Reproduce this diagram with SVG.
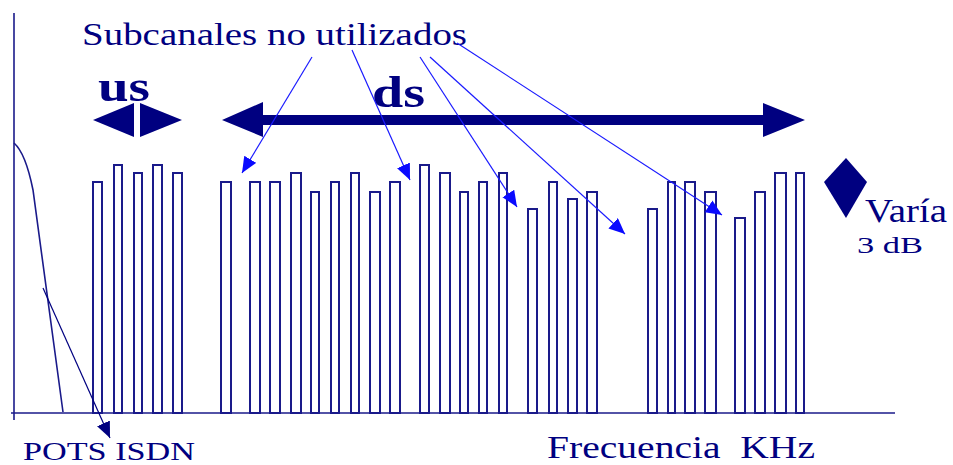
<svg xmlns="http://www.w3.org/2000/svg" width="953" height="465" viewBox="0 0 953 465">
<style>
.bar{fill:none;stroke:#1a1a8a;stroke-width:2}
.axis{fill:none;stroke:#1a1a8a;stroke-width:1.6}
.t{font-family:'Liberation Serif',serif;fill:#000080;white-space:pre}
.b{font-weight:bold}
.ptr{fill:none;stroke:#1a1aff;stroke-width:1.2}
.nv{fill:#000080}
</style>
<defs>
<marker id="ah" markerUnits="userSpaceOnUse" markerWidth="18" markerHeight="16" refX="16" refY="7" orient="auto"><path d="M0,0 L16,7 L0,14 z" fill="#0a0aff"/></marker>
<marker id="ahn" markerUnits="userSpaceOnUse" markerWidth="18" markerHeight="16" refX="16" refY="7" orient="auto"><path d="M0,0 L16,7 L0,14 z" fill="#000080"/></marker>
</defs>
<rect width="953" height="465" fill="#ffffff"/>
<g id="axes">
<line class="axis" x1="14" y1="13" x2="14" y2="420"/>
<line class="axis" x1="11" y1="413" x2="895" y2="413"/>
<path class="axis" d="M14,143 C22,150 28,165 33,190 L63,412"/>
</g>
<g id="bars">
<rect class="bar" x="93" y="182" width="9" height="231"/>
<rect class="bar" x="114" y="165" width="8" height="248"/>
<rect class="bar" x="134" y="173" width="8" height="240"/>
<rect class="bar" x="153" y="165" width="9" height="248"/>
<rect class="bar" x="173" y="173" width="9" height="240"/>
<rect class="bar" x="221" y="182" width="10" height="231"/>
<rect class="bar" x="250" y="182" width="10" height="231"/>
<rect class="bar" x="270" y="182" width="10" height="231"/>
<rect class="bar" x="291" y="173" width="10" height="240"/>
<rect class="bar" x="311" y="192" width="8" height="221"/>
<rect class="bar" x="331" y="182" width="8" height="231"/>
<rect class="bar" x="351" y="173" width="8" height="240"/>
<rect class="bar" x="370" y="192" width="10" height="221"/>
<rect class="bar" x="390" y="182" width="10" height="231"/>
<rect class="bar" x="420" y="165" width="9" height="248"/>
<rect class="bar" x="440" y="173" width="10" height="240"/>
<rect class="bar" x="460" y="192" width="8" height="221"/>
<rect class="bar" x="479" y="182" width="8" height="231"/>
<rect class="bar" x="499" y="173" width="8" height="240"/>
<rect class="bar" x="528" y="209" width="9" height="204"/>
<rect class="bar" x="549" y="182" width="8" height="231"/>
<rect class="bar" x="568" y="199" width="9" height="214"/>
<rect class="bar" x="587" y="192" width="10" height="221"/>
<rect class="bar" x="648" y="209" width="9" height="204"/>
<rect class="bar" x="668" y="182" width="7" height="231"/>
<rect class="bar" x="685" y="182" width="10" height="231"/>
<rect class="bar" x="705" y="192" width="11" height="221"/>
<rect class="bar" x="735" y="218" width="10" height="195"/>
<rect class="bar" x="755" y="192" width="10" height="221"/>
<rect class="bar" x="775" y="173" width="11" height="240"/>
<rect class="bar" x="796" y="173" width="8" height="240"/>
</g>
<g id="us">
<polygon class="nv" points="93,120 134,103 134,137"/>
<polygon class="nv" points="140,103 182,120 140,137"/>
<text class="t b" x="98" y="101" font-size="44" textLength="52" lengthAdjust="spacingAndGlyphs">us</text>
</g>
<g id="ds">
<polygon class="nv" points="222,120 263,102 263,115 763,115 763,103 805,120 763,137 763,125 263,125 263,137"/>
<text class="t b" x="372" y="107" font-size="44" textLength="53" lengthAdjust="spacingAndGlyphs">ds</text>
</g>
<g id="varia">
<polygon class="nv" points="846,158 867,182 846,218 824,182"/>
<text class="t" x="865" y="222" font-size="33" textLength="82" lengthAdjust="spacingAndGlyphs">Varía</text>
<text class="t" x="857" y="253" font-size="24" textLength="66" lengthAdjust="spacingAndGlyphs">3 dB</text>
</g>
<g id="labels">
<text class="t" x="82" y="45" font-size="32" textLength="385" lengthAdjust="spacingAndGlyphs">Subcanales no utilizados</text>
<text class="t" x="23" y="460" font-size="25" textLength="172" lengthAdjust="spacingAndGlyphs">POTS ISDN</text>
<text class="t" x="547" y="458" font-size="32" textLength="268" lengthAdjust="spacingAndGlyphs" xml:space="preserve">Frecuencia  KHz</text>
</g>
<g id="connectors">
<line class="ptr" x1="312" y1="57" x2="242" y2="173" marker-end="url(#ah)"/>
<line class="ptr" x1="352" y1="50" x2="410" y2="180" marker-end="url(#ah)"/>
<line class="ptr" x1="420" y1="57" x2="517" y2="207" marker-end="url(#ah)"/>
<line class="ptr" x1="430" y1="57" x2="625" y2="234" marker-end="url(#ah)"/>
<line class="ptr" x1="457" y1="43" x2="722" y2="215" marker-end="url(#ah)"/>
<line x1="43" y1="288" x2="110" y2="438" stroke="#000080" stroke-width="1.2" marker-end="url(#ahn)"/>
</g>
</svg>
